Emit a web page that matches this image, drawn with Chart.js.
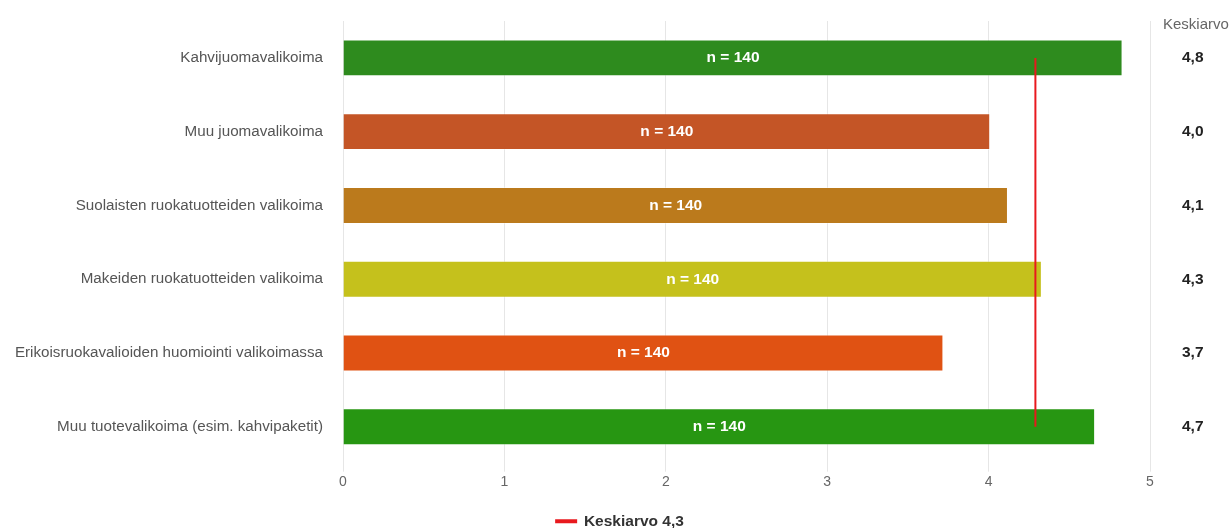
<!DOCTYPE html>
<html>
<head>
<meta charset="utf-8">
<script src="https://cdn.jsdelivr.net/npm/chart.js@4"></script>
<style>
  html, body { margin: 0; padding: 0; background: #fff; }
  #wrap { width: 1232px; height: 528px; }
</style>
</head>
<body>
<div id="wrap"><canvas id="myChart"></canvas></div>
<script>
const categories = [
    'Kahvijuomavalikoima',
    'Muu juomavalikoima',
    'Suolaisten ruokatuotteiden valikoima',
    'Makeiden ruokatuotteiden valikoima',
    'Erikoisruokavalioiden huomiointi valikoimassa',
    'Muu tuotevalikoima (esim. kahvipaketit)'
];
const averages = [4.83, 4.01, 4.12, 4.33, 3.72, 4.66];
const counts = [140, 140, 140, 140, 140, 140];
const barColors = ['#2e8b1e', '#c45526', '#bb7a1c', '#c5c11c', '#e05213', '#279612'];
const overallMean = 4.29;
const xTicks = [0, 1, 2, 3, 4, 5];

const FONT = '"Liberation Sans", Arial, sans-serif';

function fmt(v) {
    return v.toFixed(1).replace('.', ',');
}

// vertical axes should not push the plot area down
function fixVertical(width) {
    return function(axis) {
        axis.width = width;
        axis.paddingTop = 0;
        axis.paddingBottom = 0;
    };
}

// "n = 140" inside bars and the column header on the right
const extraLabels = {
    id: 'extraLabels',
    afterLayout(chart) {
        // legend sits closer to the bottom edge
        chart.legend.top += 11;
        chart.legend.bottom += 11;
    },
    afterDatasetsDraw(chart) {
        const ctx = chart.ctx;
        const meta = chart.getDatasetMeta(0);
        ctx.save();
        ctx.textBaseline = 'middle';
        ctx.textAlign = 'center';
        ctx.font = 'bold 15.5px ' + FONT;
        ctx.fillStyle = '#ffffff';
        meta.data.forEach(function(bar, i) {
            ctx.fillText('n = ' + counts[i], (bar.base + bar.x) / 2, bar.y);
        });
        ctx.font = '15px ' + FONT;
        ctx.fillStyle = '#666666';
        ctx.textAlign = 'left';
        ctx.fillText('Keskiarvo', chart.chartArea.right + 13, 25);
        ctx.restore();
    }
};

document.addEventListener('DOMContentLoaded', function() {
    const ctx = document.getElementById('myChart').getContext('2d');

    new Chart(ctx, {
        type: 'bar',
        data: {
            labels: categories,
            datasets: [{
                label: 'Keskiarvo',
                data: averages,
                backgroundColor: barColors,
                borderColor: 'rgba(255,255,255,0.35)',
                borderWidth: 1,
                categoryPercentage: 1,
                barPercentage: 0.5,
                order: 2
            }, {
                type: 'line',
                label: 'Keskiarvo ' + fmt(overallMean),
                data: categories.map(function() { return overallMean; }),
                borderColor: '#e8191e',
                backgroundColor: '#e8191e',
                borderWidth: 2,
                pointRadius: 0,
                pointHoverRadius: 0,
                fill: false,
                order: 1
            }]
        },
        options: {
            indexAxis: 'y',
            responsive: true,
            maintainAspectRatio: false,
            animation: false,
            layout: { padding: { top: 21, right: 0, left: 8, bottom: 0 } },
            plugins: {
                legend: {
                    display: true,
                    position: 'bottom',
                    labels: {
                        boxWidth: 20,
                        boxHeight: 2,
                        padding: 1,
                        color: '#333333',
                        font: { family: FONT, size: 15.5, weight: 'bold', lineHeight: 1 },
                        filter: function(item) { return item.datasetIndex === 1; }
                    }
                },
                tooltip: { enabled: false }
            },
            scales: {
                x: {
                    min: 0,
                    max: 5,
                    afterBuildTicks: function(axis) {
                        axis.ticks = xTicks.map(function(v) { return { value: v }; });
                    },
                    afterFit: function(axis) { axis.height += 9; },
                    grid: { color: '#e6e6e6', tickLength: 8, drawTicks: true },
                    border: { display: false },
                    ticks: {
                        color: '#666666',
                        padding: 2,
                        font: { family: FONT, size: 14 }
                    }
                },
                y: {
                    afterFit: fixVertical(335),
                    grid: { display: false },
                    border: { display: false },
                    ticks: {
                        color: '#555555',
                        padding: 12,
                        font: { family: FONT, size: 15.2 }
                    }
                },
                yRight: {
                    type: 'category',
                    position: 'right',
                    labels: averages.map(fmt),
                    offset: true,
                    afterFit: fixVertical(82),
                    grid: { display: false, drawTicks: false },
                    border: { display: false },
                    ticks: {
                        color: '#222222',
                        crossAlign: 'near',
                        padding: 32,
                        font: { family: FONT, size: 15.5, weight: 'bold' }
                    }
                }
            }
        },
        plugins: [extraLabels]
    });
});
</script>
</body>
</html>
